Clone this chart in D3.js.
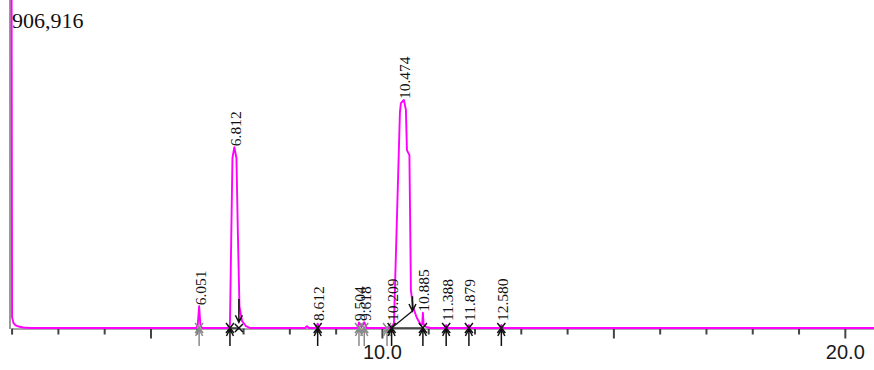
<!DOCTYPE html>
<html>
<head>
<meta charset="utf-8">
<script src="https://cdn.jsdelivr.net/npm/d3@7"></script>
<style>
  html, body { margin: 0; padding: 0; background: #fff; }
  svg { display: block; }
</style>
</head>
<body>
<svg id="chart" width="874" height="370"></svg>
<script>
// Detector trace: retention time (min) and signal (µV)
const traceTime = [
  2.00, 2.01, 2.04, 2.08, 2.15, 2.25, 2.40,
  5.98, 6.02, 6.051, 6.08, 6.12,
  6.674, 6.717, 6.739, 6.771, 6.812, 6.857, 6.890, 6.922, 6.976, 7.063, 7.15,
  8.34, 8.38, 8.42,
  8.57, 8.612, 8.65,
  9.47, 9.504, 9.56, 9.618, 9.67,
  10.18, 10.209, 10.24, 10.26, 10.389, 10.41, 10.474, 10.518, 10.540, 10.594,
  10.626, 10.670, 10.756, 10.842, 10.87, 10.885, 10.90, 10.95, 11.05,
  11.35, 11.388, 11.42,
  11.84, 11.879, 11.92,
  12.54, 12.580, 12.62,
  20.63
];
const traceSignal = [
  906916, 30000, 14000, 8000, 4000, 1500, 0,
  0, 6000, 60000, 6000, 0,
  0, 10000, 200000, 470000, 500000, 470000, 250000, 60000, 20000, 5000, 0,
  0, 5000, 0,
  0, 12000, 0,
  0, 15000, 3000, 16000, 0,
  0, 5000, 8000, 14000, 597000, 622000, 630400, 603000, 492000, 478000,
  105000, 58000, 27650, 8300, 10000, 42000, 10000, 3000, 0,
  0, 8000, 0,
  0, 8000, 0,
  0, 8000, 0,
  0
];

// Integrated peaks: retention time label and apex height
const peakTimes   = [6.051, 6.812, 8.612, 9.504, 9.618, 10.209, 10.474, 10.885, 11.388, 11.879, 12.580];
const peakHeights = [60000, 500000, 12000, 15000, 16000, 5000, 630400, 42000, 8000, 8000, 8000];

// Integration event markers
const startMarks = [6.051, 6.717, 8.612, 9.504, 9.618, 10.11, 10.209, 10.885, 11.388, 11.879, 12.580];
const startGray  = [true, false, false, true, true, true, false, false, false, false, false];
const endMarks   = [6.91, 10.66];
const endTops    = [80000, 88000];
const endTips    = [16000, 47000];
const dropLine   = [10.209, 10.66];
const baseLines  = [[6.717, 6.91], [10.209, 10.885]];

// Axis
const yMax = 906916;
const majorTicks = [5, 10, 15, 20];
const minorTicks = [2, 3, 4, 6, 7, 8, 9, 11, 12, 13, 14, 16, 17, 18, 19];

const svg = d3.select("#chart");
const x = d3.scaleLinear().domain([2, 20.63]).range([11.6, 874]);
const y = d3.scaleLinear().domain([0, yMax]).range([328, 0]);
const base = y(0);

// y axis line
svg.append("line")
  .attr("x1", 10).attr("x2", 10).attr("y1", 0).attr("y2", base + 1)
  .attr("stroke", "#777").attr("stroke-width", 1.5);

// minor ticks
const minorAxis = svg.append("g")
  .attr("transform", `translate(0,${base + 0.5})`)
  .call(d3.axisBottom(x).tickValues(minorTicks).tickSize(6).tickFormat(""));
minorAxis.select(".domain").attr("stroke", "#555").attr("stroke-width", 1);
minorAxis.selectAll(".tick line").attr("stroke", "#444").attr("stroke-width", 2);

// major ticks with labels
const majorAxis = svg.append("g")
  .attr("transform", `translate(0,${base + 0.5})`)
  .call(d3.axisBottom(x).tickValues(majorTicks).tickSize(10).tickPadding(6)
    .tickFormat(d => d % 10 === 0 ? d.toFixed(1) : ""));
majorAxis.select(".domain").remove();
majorAxis.selectAll(".tick line").attr("stroke", "#444").attr("stroke-width", 2);
majorAxis.selectAll(".tick text")
  .attr("font-family", "'Liberation Sans', Arial, sans-serif")
  .attr("font-size", 20).attr("fill", "#1a1a1a");

// baseline segments
const ink = svg.append("g").attr("stroke", "#111").attr("stroke-width", 1.3).attr("fill", "none");
baseLines.forEach(([a, b]) => {
  ink.append("line").attr("x1", x(a)).attr("x2", x(b)).attr("y1", base).attr("y2", base);
});

// trace
const pts = traceTime.map((t, i) => [t, traceSignal[i]]);
svg.append("path")
  .datum(pts)
  .attr("fill", "none")
  .attr("stroke", "#ff00ff")
  .attr("stroke-width", 1.9)
  .attr("stroke-linejoin", "round")
  .attr("d", d3.line().x(d => x(d[0])).y(d => y(d[1])));

// drop line to the valley after the main peak
ink.append("line")
  .attr("x1", x(dropLine[0])).attr("y1", base)
  .attr("x2", x(dropLine[1])).attr("y2", y(endTips[1]));

// start markers: cross at baseline and arrow rising from below
startMarks.forEach((t, i) => {
  const cx = x(t);
  const col = startGray[i] ? "#8a8a8a" : "#111";
  const g = svg.append("g").attr("stroke", col).attr("stroke-width", 1.5).attr("fill", "none");
  g.append("path").attr("d", `M${cx - 4},${base - 5}L${cx + 4},${base + 5}M${cx - 4},${base + 5}L${cx + 4},${base - 5}`);
  g.append("path").attr("d", `M${cx},${base + 18}L${cx},${base + 1}M${cx - 3.5},${base + 8}L${cx},${base + 1}L${cx + 3.5},${base + 8}`);
});

// end markers: arrow falling from above
endMarks.forEach((t, i) => {
  const cx = x(t);
  const top = y(endTops[i]);
  const tip = y(endTips[i]);
  const g = svg.append("g").attr("stroke", "#111").attr("stroke-width", 1.5).attr("fill", "none");
  g.append("path").attr("d", `M${cx},${top}L${cx},${tip}M${cx - 3.5},${tip - 7}L${cx},${tip}L${cx + 3.5},${tip - 7}`);
  if (i === 0) {
    g.append("path").attr("d", `M${cx - 4},${base - 4}L${cx + 4},${base + 4}M${cx - 4},${base + 4}L${cx + 4},${base - 4}`);
  }
});

// retention time labels
svg.append("g")
  .selectAll("text")
  .data(peakTimes)
  .join("text")
  .attr("transform", (t, i) => `translate(${x(t) + 1},${Math.min(y(peakHeights[i]) - 1, 321)}) rotate(-90)`)
  .attr("dy", "0.35em")
  .attr("font-family", "'Liberation Serif', 'Times New Roman', serif")
  .attr("font-size", 15.5)
  .attr("fill", "#111")
  .text(t => t.toFixed(3));

// full-scale value
svg.append("text")
  .attr("x", 12).attr("y", 28)
  .attr("font-family", "'Liberation Serif', 'Times New Roman', serif")
  .attr("font-size", 22)
  .attr("fill", "#111")
  .text(d3.format(",")(yMax));
</script>
</body>
</html>
